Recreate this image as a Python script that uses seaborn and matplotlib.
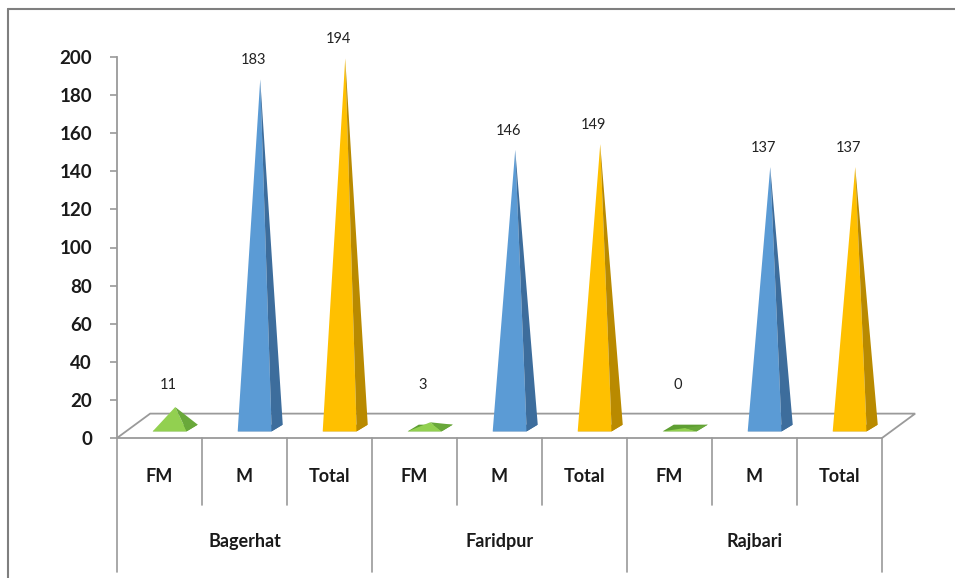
import matplotlib.pyplot as plt
import seaborn as sns

districts = ['Bagerhat', 'Faridpur', 'Rajbari']
groups = ['FM', 'M', 'Total']
values = [[11, 183, 194], [3, 146, 149], [0, 137, 137]]
yticks = [0, 20, 40, 60, 80, 100, 120, 140, 160, 180, 200]

front_cols = {'FM': '#92D050', 'M': '#5B9BD5', 'Total': '#FFC000'}
side_cols = {'FM': '#69A83A', 'M': '#3D6D9C', 'Total': '#B98A00'}
base_cols = {'FM': '#5E9E32', 'M': '#3D6D9C', 'Total': '#B98A00'}

sns.set_theme(style="white")
plt.rcParams['font.family'] = ['Lato', 'DejaVu Sans']

W, H = 955, 578
fig = plt.figure(figsize=(W / 100, H / 100), dpi=100)
fig.patch.set_facecolor('white')

def fx(px):
    return px / W

def fy(py):
    return 1 - py / H

ax = fig.add_axes([fx(117), fy(438), (882 - 117) / W, (438 - 57) / H])
ax.set_xlim(-0.5, 8.5)
ax.set_ylim(0, 200)
ax.set_facecolor('none')

grey = '#9A9A9A'

# floor
dxf, dyf = 0.39, 12.8
ax.fill([-0.5, 8.5, 8.5 + dxf, -0.5 + dxf], [0, 0, dyf, dyf],
        facecolor='white', edgecolor=grey, linewidth=1.3, clip_on=False, zorder=1)

# pyramids
w, dx, dy, b = 0.2, 0.13, 3.5, 3.5
pos = 0
for d, row in zip(districts, values):
    for g, v in zip(groups, row):
        cx = pos + 0.12
        fl, fr = (cx - w, b), (cx + w, b)
        br, bl = (cx + w + dx, b + dy), (cx - w + dx, b + dy)
        apex = (cx + dx / 2, b + dy / 2 + v)
        ax.fill([fl[0], fr[0], br[0], bl[0]], [fl[1], fr[1], br[1], bl[1]],
                color=base_cols[g], linewidth=0, zorder=2, clip_on=False)
        ax.fill([fl[0], fr[0], apex[0]], [fl[1], fr[1], apex[1]],
                color=front_cols[g], linewidth=0, zorder=3, clip_on=False)
        ax.fill([fr[0], br[0], apex[0]], [fr[1], br[1], apex[1]],
                color=side_cols[g], linewidth=0, zorder=3, clip_on=False)
        ax.text(cx - 0.02, max(apex[1] + 10, 28), str(v), ha='center', va='center',
                fontsize=10.5, color='#222222', clip_on=False)
        pos += 1

# y axis
for s in ['top', 'right', 'bottom']:
    ax.spines[s].set_visible(False)
ax.spines['left'].set_color(grey)
ax.spines['left'].set_linewidth(1.3)
ax.set_yticks(yticks)
ax.set_yticklabels([str(t) for t in yticks], fontsize=13.5, fontweight='bold', color='#1a1a1a')
ax.tick_params(axis='y', left=True, length=5, width=1.2, color=grey, pad=13)
ax.set_xticks([])
ax.grid(False)

# category table below the floor
n = len(districts) * len(groups)
xpix = [117 + i * (882 - 117) / n for i in range(n + 1)]
for i, x in enumerate(xpix):
    bottom = 572 if i % 3 == 0 else 505
    fig.add_artist(plt.Line2D([fx(x), fx(x)], [fy(438), fy(bottom)], color=grey, linewidth=1.2))
k = 0
for d in districts:
    for g in groups:
        fig.text(fx((xpix[k] + xpix[k + 1]) / 2), fy(476), g, ha='center', va='center',
                 fontsize=13, fontweight='bold', color='#1a1a1a')
        k += 1
for j, d in enumerate(districts):
    fig.text(fx((xpix[3 * j] + xpix[3 * j + 3]) / 2), fy(541), d, ha='center', va='center',
             fontsize=13, fontweight='bold', color='#1a1a1a')

# outer frame (top and left edges visible)
fig.add_artist(plt.Line2D([fx(8), fx(955)], [fy(9), fy(9)], color='#7F7F7F', linewidth=1.5))
fig.add_artist(plt.Line2D([fx(8), fx(8)], [fy(9), fy(578)], color='#7F7F7F', linewidth=1.5))

fig.savefig('out.png', dpi=100, facecolor='white')
